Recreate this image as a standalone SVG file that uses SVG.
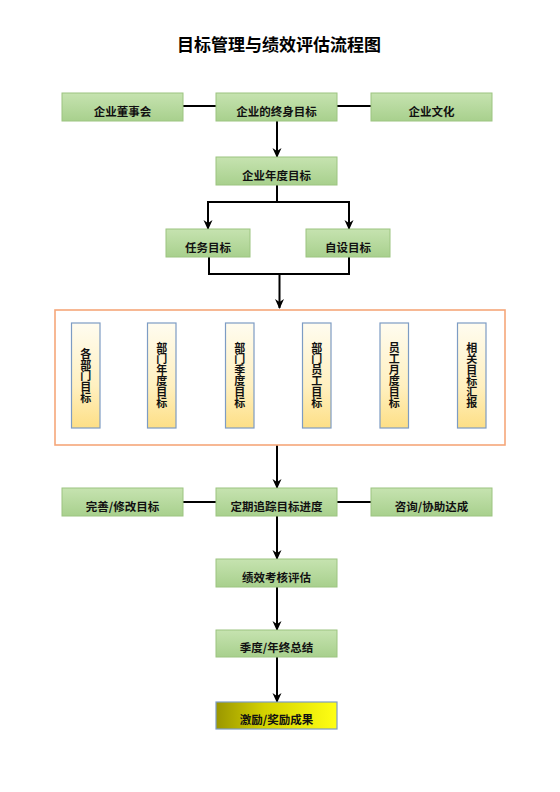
<svg xmlns="http://www.w3.org/2000/svg" width="560" height="792" viewBox="0 0 560 792">
<defs>
<linearGradient id="gGreen" x1="0" y1="0" x2="0" y2="1">
<stop offset="0" stop-color="#c6e3b0"/>
<stop offset="1" stop-color="#a8d08d"/>
</linearGradient>
<linearGradient id="gCream" x1="0" y1="0" x2="0" y2="1">
<stop offset="0" stop-color="#fffcf0"/>
<stop offset="0.6" stop-color="#fff0c0"/>
<stop offset="1" stop-color="#fddf86"/>
</linearGradient>
<linearGradient id="gYellow" x1="0" y1="0" x2="1" y2="0">
<stop offset="0" stop-color="#9a9600"/>
<stop offset="0.4" stop-color="#d4d200"/>
<stop offset="1" stop-color="#ffff14"/>
</linearGradient>
<marker id="arr" markerWidth="10" markerHeight="10" viewBox="0 0 10 10" refX="9" refY="5" orient="auto" markerUnits="userSpaceOnUse">
<path d="M0,0.5 L10,5 L0,9.5 L3,5 Z" fill="#000"/>
</marker>
<style>
.g{fill:url(#gGreen);stroke:#9cc480;stroke-width:1}
.v{fill:url(#gCream);stroke:#7d9cc4;stroke-width:1.2}
.t{font-family:"Noto Sans CJK SC","Liberation Sans",sans-serif;font-weight:bold;font-size:11.5px;fill:#111;text-anchor:middle}
.vt{font-family:"Noto Sans CJK SC","Liberation Sans",sans-serif;font-weight:bold;font-size:11px;fill:#111;text-anchor:middle;writing-mode:vertical-rl;text-orientation:upright}
.c{stroke:#000;stroke-width:2;fill:none}
</style>
</defs>
<text x="279" y="51" style="font-family:'Noto Sans CJK SC','Liberation Sans',sans-serif;font-weight:bold;font-size:17px;fill:#000;text-anchor:middle">目标管理与绩效评估流程图</text>

<g id="connectors">
<line class="c" x1="183" y1="106" x2="216" y2="106"/>
<line class="c" x1="337" y1="106" x2="371" y2="106"/>
<line class="c" x1="277" y1="121" x2="277" y2="157" marker-end="url(#arr)"/>
<polyline class="c" points="277,185 277,202"/>
<polyline class="c" points="208,222 208,202 349,202 349,222"/>
<line class="c" x1="208" y1="202" x2="208" y2="229" marker-end="url(#arr)"/>
<line class="c" x1="349" y1="202" x2="349" y2="229" marker-end="url(#arr)"/>
<polyline class="c" points="209,257 209,274 349,274 349,257"/>
<line class="c" x1="279.5" y1="274" x2="279.5" y2="308" marker-end="url(#arr)"/>
<line class="c" x1="277" y1="445" x2="277" y2="488" marker-end="url(#arr)"/>
<line class="c" x1="183" y1="502" x2="216" y2="502"/>
<line class="c" x1="337" y1="502" x2="371" y2="502"/>
<line class="c" x1="277" y1="516" x2="277" y2="559" marker-end="url(#arr)"/>
<line class="c" x1="277" y1="587" x2="277" y2="630" marker-end="url(#arr)"/>
<line class="c" x1="277" y1="657" x2="277" y2="702" marker-end="url(#arr)"/>
</g>

<g id="board"><rect class="g" x="62" y="93" width="121" height="28"/><text class="t" x="122.5" y="116">企业董事会</text></g>
<g id="lifelong"><rect class="g" x="216" y="93" width="121" height="28"/><text class="t" x="276.5" y="116">企业的终身目标</text></g>
<g id="culture"><rect class="g" x="371" y="93" width="121" height="28"/><text class="t" x="431.5" y="116">企业文化</text></g>
<g id="annual"><rect class="g" x="216" y="157" width="121" height="28"/><text class="t" x="276.5" y="180">企业年度目标</text></g>
<g id="task"><rect class="g" x="166" y="229" width="84" height="28"/><text class="t" x="208" y="252">任务目标</text></g>
<g id="self"><rect class="g" x="306" y="229" width="84" height="28"/><text class="t" x="348" y="252">自设目标</text></g>

<g id="dept-group"><rect x="55" y="310" width="450" height="135" fill="none" stroke="#f5a77a" stroke-width="1.6"/></g>
<g id="v1"><rect class="v" x="71.5" y="323" width="28.5" height="105"/><text class="vt" x="85.75" y="375.5">各部门目标</text></g>
<g id="v2"><rect class="v" x="147.5" y="323" width="28.5" height="105"/><text class="vt" x="161.75" y="375">部门年度目标</text></g>
<g id="v3"><rect class="v" x="225.5" y="323" width="28.5" height="105"/><text class="vt" x="239.75" y="375">部门季度目标</text></g>
<g id="v4"><rect class="v" x="302.5" y="323" width="28.5" height="105"/><text class="vt" x="316.75" y="375">部门员工目标</text></g>
<g id="v5"><rect class="v" x="380" y="323" width="28.5" height="105"/><text class="vt" x="394.25" y="375">员工月度目标</text></g>
<g id="v6"><rect class="v" x="457.5" y="323" width="28.5" height="105"/><text class="vt" x="471.75" y="375">相关目标汇报</text></g>

<g id="revise"><rect class="g" x="62" y="488" width="121" height="28"/><text class="t" x="122.5" y="511">完善/修改目标</text></g>
<g id="track"><rect class="g" x="216" y="488" width="121" height="28"/><text class="t" x="276.5" y="511">定期追踪目标进度</text></g>
<g id="consult"><rect class="g" x="371" y="488" width="121" height="28"/><text class="t" x="431.5" y="511">咨询/协助达成</text></g>
<g id="appraisal"><rect class="g" x="216" y="559" width="121" height="28"/><text class="t" x="276.5" y="582">绩效考核评估</text></g>
<g id="summary"><rect class="g" x="216" y="630" width="121" height="27"/><text class="t" x="276.5" y="652">季度/年终总结</text></g>
<g id="reward"><rect x="216" y="702" width="121" height="27" fill="url(#gYellow)" stroke="#7d9cc4" stroke-width="1.2"/><text class="t" x="276.5" y="724">激励/奖励成果</text></g>
</svg>
